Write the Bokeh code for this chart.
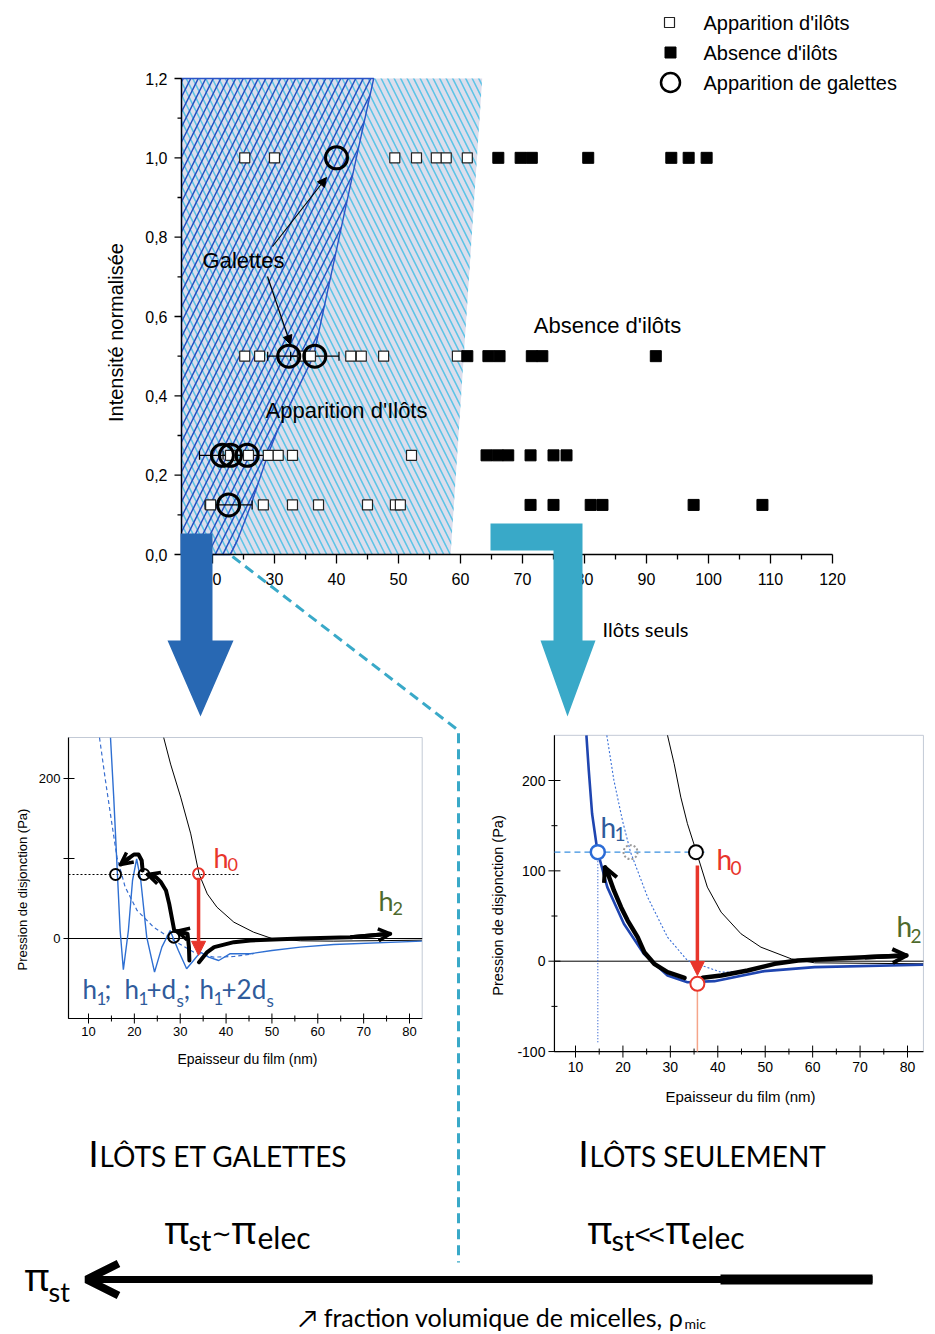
import numpy as np
from bokeh.plotting import figure
from bokeh.models import Range1d, Arrow, OpenHead, NormalHead, ColumnDataSource
from bokeh.embed import file_html
from bokeh.resources import INLINE
from bokeh.core.properties import value

# ---------------- DATA ----------------
# Top chart: normalised intensity rows vs film thickness (nm)
appar_y100 = [25.2, 30.0, 49.4, 52.9, 56.1, 57.7, 61.1]
appar_y050 = [25.2, 27.6, 34.5, 35.8, 42.3, 44.0, 47.6, 59.5]
appar_y025 = [22.9, 25.8, 29.0, 30.6, 32.9, 52.1]
appar_y0125 = [19.7, 28.2, 32.9, 37.1, 45.0, 49.5, 50.3]
absence_y100 = [66.1, 69.7, 71.5, 80.6, 94.0, 96.8, 99.7]
absence_y050 = [61.1, 64.5, 66.3, 71.5, 73.2, 91.5]
absence_y025 = [64.2, 66.0, 67.7, 71.3, 75.0, 77.1]
absence_y0125 = [71.3, 75.0, 81.0, 82.9, 97.6, 108.7]
galettes_x = [40.0, 32.3, 36.5, 21.6, 22.9, 25.6, 22.6]
galettes_y = [1.0, 0.5, 0.5, 0.25, 0.25, 0.25, 0.125]
galettes_err = [0.0, 3.4, 3.9, 3.7, 0.0, 3.9, 3.8]

# regions (boundaries)
region_light_x = [15, 63.5, 58.4, 15]
region_light_y = [1.2, 1.2, 0.0, 0.0]
region_dark_x = [15, 46.0, 43.2, 36.3, 30.5, 28.9, 26.1, 24.0, 22.9, 15]
region_dark_y = [1.2, 1.2, 1.0, 0.5, 0.313, 0.25, 0.121, 0.035, 0.0, 0.0]

top_xticks = [20, 30, 40, 50, 60, 70, 80, 90, 100, 110, 120]
top_xlabels = ["20", "30", "40", "50", "60", "70", "80", "90", "100", "110", "120"]
top_xminor = [25, 35, 45, 55, 65, 75, 85, 95, 105, 115]
top_yticks = [0.0, 0.2, 0.4, 0.6, 0.8, 1.0, 1.2]
top_ylabels = ["0,0", "0,2", "0,4", "0,6", "0,8", "1,0", "1,2"]
top_yminor = [0.1, 0.3, 0.5, 0.7, 0.9, 1.1]
top_xlim = [15, 120]
top_ylim = [0, 1.2]

# Bottom-left chart (islands and pancakes)
L_black_x = [26.4, 27.9, 30.1, 32.3, 34.1, 35.9, 38.0, 41.7, 46.0, 50.0, 56.2, 63.5, 82.7]
L_black_y = [251, 218, 176.7, 130.8, 80.8, 55.8, 39.2, 20.4, 7.9, 0.0, -2.9, -3.3, -2.1]
L_dash_x = [12.4, 13.7, 15.1, 16.2, 18.0, 20.6, 24.2, 28.6, 32.9, 37.3, 41.7, 46.0]
L_dash_y = [251, 197.5, 143.3, 101.7, 64.2, 35.0, 14.2, -2.5, -17.0, -23.3, -22.5, -19.0]
L_osc_x = [14.8, 15.5, 16.2, 16.9, 17.6, 18.7, 19.6, 20.5, 21.4, 22.7, 24.4, 26.0, 27.8, 29.6,
           31.4, 32.9, 34.4, 36.2, 38.4, 40.9, 45.3, 50.0, 56.2, 63.5, 82.7]
L_osc_y = [251, 176.7, 93.3, 10.0, -39.0, 10.0, 72.5, 99.6, 72.5, 1.7, -42.0, -10.8, 10.0, -15.0,
           -37.9, -27.5, -17.0, -23.3, -27.5, -19.0, -19.0, -15.0, -10.8, -7.5, -3.3]
L_level = 80.0
L_pts_x = [15.9, 22.1, 28.6]
L_pts_y = [80.0, 80.0, 1.7]
L_h0 = [34.0, 80.8]
L_pathA_x = [32.0, 31.9, 31.6, 29.3]
L_pathA_y = [-27.5, -10.8, 5.8, 9.2]
L_pathB_x = [28.7, 27.6, 26.9, 25.8, 24.7, 22.9]
L_pathB_y = [10.0, 43.3, 60.0, 70.4, 76.7, 80.0]
L_pathC_x = [21.8, 21.6, 20.9, 19.9, 18.9, 17.0]
L_pathC_y = [85.0, 97.5, 105.0, 105.0, 100.8, 92.5]
L_pathD_x = [34.1, 35.9, 37.4, 41.7, 45.3, 56.2, 67.1, 75.8]
L_pathD_y = [-29.6, -17.0, -10.8, -4.6, -2.5, 0.0, 1.7, 5.8]
L_xticks = [10, 20, 30, 40, 50, 60, 70, 80]
L_xlabels = ["10", "20", "30", "40", "50", "60", "70", "80"]
L_xminor = [15, 25, 35, 45, 55, 65, 75]
L_yticks = [200, 100, 0]
L_ylabels = ["200", "", "0"]
L_xlim = [5.64, 82.77]
L_ylim = [-100, 251.25]

# Bottom-right chart (islands only)
R_black_x = [29.4, 30.8, 32.2, 33.6, 35.4, 37.8, 40.7, 44.9, 49.1, 55.5, 60.4, 83.3]
R_black_y = [250, 218.6, 181.6, 152.2, 122.6, 82.0, 54.3, 30.3, 15.5, 2.6, -1.8, -2.9]
R_blue_x = [12.3, 12.8, 13.5, 14.6, 16.7, 20.2, 24.4, 29.4, 33.6, 39.3, 49.8, 60.4, 83.3]
R_blue_y = [250, 211.2, 163.2, 122.6, 82.0, 41.4, 8.2, -15.8, -23.3, -22.1, -11.0, -6.6, -4.0]
R_dot_x = [16.6, 18.1, 19.9, 21.6, 25.2, 29.4, 33.6, 40.7, 46.3]
R_dot_y = [250, 200.1, 155.8, 120.7, 70.9, 26.6, 0.8, -12.2, -11.1]
R_level = 120.7
R_h1 = [14.7, 120.7]
R_ghost = [21.6, 120.7]
R_top = [35.4, 120.7]
R_h0 = [35.7, -25.0]
R_path1_x = [33.0, 29.4, 26.6, 24.5, 23.1, 21.0, 19.6, 18.1, 17.1, 16.2]
R_path1_y = [-18.4, -12.2, -2.9, 10.0, 26.6, 45.0, 59.8, 78.3, 93.0, 104.0]
R_path2_x = [36.8, 40.7, 46.3, 52.0, 56.9, 64.0, 71.0, 79.8]
R_path2_y = [-18.4, -15.8, -10.3, -2.9, 0.8, 2.6, 4.4, 6.3]
R_xticks = [10, 20, 30, 40, 50, 60, 70, 80]
R_xlabels = ["10", "20", "30", "40", "50", "60", "70", "80"]
R_xminor = [15, 25, 35, 45, 55, 65, 75]
R_yticks = [200, 100, 0, -100]
R_ylabels = ["200", "100", "0", "-100"]
R_yminor = [150, 50, -50]
R_xlim = [5.56, 83.36]
R_ylim = [-100, 250]

# ---------------- LAYOUT ----------------
W, H = 935, 1334
OX, OY = 0, 0


def lin_range(v_a, p_a, v_b, p_b, p_lo, p_hi):
    s = (p_b - p_a) / (v_b - v_a)
    return Range1d(v_a + (p_lo - p_a) / s, v_a + (p_hi - p_a) / s), abs(s)


tx, tsx = lin_range(30, 274, 120, 832, OX, OX + W)
ty, tsy = lin_range(0, 554, 1.2, 78, OY + H, OY)
lx, lsx = lin_range(10, 88, 80, 409, OX, OX + W)
ly, lsy = lin_range(0, 938, 200, 778, OY + H, OY)
rx, rsx = lin_range(10, 575, 80, 907, OX, OX + W)
ry, rsy = lin_range(0, 960.7, 200, 780, OY + H, OY)

p = figure(width=W, height=H, x_range=Range1d(OX, OX + W), y_range=Range1d(OY + H, OY),
           output_backend="svg", toolbar_location=None, min_border=0,
           x_axis_location=None, y_axis_location=None, title=None)
p.outline_line_color = None
p.xgrid.visible = False
p.ygrid.visible = False
p.extra_x_ranges = {"tx": tx, "lx": lx, "rx": rx}
p.extra_y_ranges = {"ty": ty, "ly": ly, "ry": ry}

ARIAL = "Liberation Sans"
CAL = "Lato"
GREEK = "Noto Sans"


def T(x, y, s, size, color="black", font=ARIAL, align="left", baseline="middle",
      angle=0.0, rx_="default", ry_="default", xo=0, yo=0):
    p.text(x=[x], y=[y], text=[s], text_font=value(font), text_font_size=f"{size}px",
           text_color=color, text_align=align, text_baseline=baseline, angle=angle,
           x_offset=xo, y_offset=yo, x_range_name=rx_, y_range_name=ry_)


def ticks_x(xs, yv, down, up, sy, rn, yn, w=1):
    xs = list(xs)
    p.segment(x0=xs, y0=[yv - down / sy] * len(xs), x1=xs, y1=[yv + up / sy] * len(xs),
              line_color="black", line_width=w, x_range_name=rn, y_range_name=yn)


def ticks_y(ys, xv, left, right, sx, rn, yn, w=1):
    ys = list(ys)
    p.segment(x0=[xv - left / sx] * len(ys), y0=ys, x1=[xv + right / sx] * len(ys), y1=ys,
              line_color="black", line_width=w, x_range_name=rn, y_range_name=yn)


# ---------------- TOP CHART ----------------
p.patch(x=region_light_x, y=region_light_y, x_range_name="tx", y_range_name="ty",
        fill_color="#dcdeec", line_color=None,
        hatch_pattern="\\", hatch_color="#5ec4e6", hatch_scale=13, hatch_weight=1.6)
p.patch(x=region_dark_x, y=region_dark_y, x_range_name="tx", y_range_name="ty",
        fill_alpha=0, line_color="#2a54c6", line_width=1.4,
        hatch_pattern="/", hatch_color="#2650c2", hatch_scale=15, hatch_weight=1.5)

# axes
p.line(x=[top_xlim[0], top_xlim[0]], y=top_ylim, line_color="black", line_width=1.3,
       x_range_name="tx", y_range_name="ty")
p.line(x=top_xlim, y=[top_ylim[0], top_ylim[0]], line_color="black", line_width=1.3,
       x_range_name="tx", y_range_name="ty")
ticks_x(top_xticks, 0, 9, 0, tsy, "tx", "ty", 1.3)
ticks_x(top_xminor, 0, 5, 0, tsy, "tx", "ty", 1.3)
ticks_y(top_yticks, top_xlim[0], 7, 0, tsx, "tx", "ty", 1.3)
ticks_y(top_yminor, top_xlim[0], 4, 0, tsx, "tx", "ty", 1.3)
p.text(x=top_xticks, y=[0] * len(top_xticks), text=top_xlabels, text_font=value(ARIAL),
       text_font_size="16px", text_align="center", text_baseline="top", y_offset=18,
       x_range_name="tx", y_range_name="ty")
p.text(x=[top_xlim[0]] * len(top_yticks), y=top_yticks, text=top_ylabels, text_font=value(ARIAL),
       text_font_size="16px", text_align="right", text_baseline="middle", x_offset=-14,
       x_range_name="tx", y_range_name="ty")

# data points
appar_x = appar_y100 + appar_y050 + appar_y025 + appar_y0125
appar_yv = ([1.0] * len(appar_y100) + [0.5] * len(appar_y050) + [0.25] * len(appar_y025)
            + [0.125] * len(appar_y0125))
abs_x = absence_y100 + absence_y050 + absence_y025 + absence_y0125
abs_yv = ([1.0] * len(absence_y100) + [0.5] * len(absence_y050) + [0.25] * len(absence_y025)
          + [0.125] * len(absence_y0125))

wsrc = ColumnDataSource(dict(
    y=[g for g, e in zip(galettes_y, galettes_err) if e > 0],
    lo=[x - e for x, e in zip(galettes_x, galettes_err) if e > 0],
    hi=[x + e for x, e in zip(galettes_x, galettes_err) if e > 0]))
p.segment(x0="lo", x1="hi", y0="y", y1="y", source=wsrc, line_color="black", line_width=1.2,
          x_range_name="tx", y_range_name="ty")
p.scatter(x="lo", y="y", source=wsrc, marker="dash", angle=np.pi / 2, size=9, line_color="black",
          line_width=1.2, x_range_name="tx", y_range_name="ty")
p.scatter(x="hi", y="y", source=wsrc, marker="dash", angle=np.pi / 2, size=9, line_color="black",
          line_width=1.2, x_range_name="tx", y_range_name="ty")
p.scatter(x=appar_x, y=appar_yv, marker="square", size=10, fill_color="white",
          line_color="#222222", line_width=1.2, x_range_name="tx", y_range_name="ty")
p.scatter(x=abs_x, y=abs_yv, marker="square", size=11, fill_color="black",
          line_color="black", x_range_name="tx", y_range_name="ty")
p.scatter(x=galettes_x, y=galettes_y, marker="circle", size=22, fill_alpha=0,
          line_color="black", line_width=3, x_range_name="tx", y_range_name="ty")

# region labels
T(243, 260, "Galettes", 22, align="center")
T(607, 325, "Absence d'ilôts", 22, align="center")
T(346, 410, "Apparition d'Ilôts", 22, align="center")
T(645, 628, "Ilôts seuls", 20, font=CAL, align="center")
T(115, 332, "Intensité normalisée", 20, align="center", angle=np.pi / 2)

p.add_layout(Arrow(end=NormalHead(size=9, fill_color="black", line_color="black"),
                   x_start=272, y_start=246, x_end=326, y_end=177, line_width=1.2))
p.add_layout(Arrow(end=NormalHead(size=9, fill_color="black", line_color="black"),
                   x_start=267, y_start=276, x_end=290, y_end=344, line_width=1.2))

# legend
p.scatter(x=[669], y=[22], marker="square", size=10, fill_color="white", line_color="#222222",
          line_width=1.2)
p.scatter(x=[670], y=[52], marker="square", size=11, fill_color="black", line_color="black")
p.scatter(x=[670], y=[82], marker="circle", size=19, fill_alpha=0, line_color="black",
          line_width=2.5)
T(703, 22, "Apparition d'ilôts", 20)
T(703, 52, "Absence d'ilôts", 20)
T(703, 82, "Apparition de galettes", 20)

# ---------------- CONNECTORS ----------------
p.patch(x=[180, 212, 212, 233, 200, 167, 180], y=[533, 533, 640, 640, 716, 640, 640],
        fill_color="#2868b3", line_color=None)
p.patch(x=[490, 582, 582, 595, 567, 540, 553, 553, 490],
        y=[523, 523, 640, 640, 716, 640, 640, 550, 550],
        fill_color="#39a9c8", line_color=None)
p.line(x=[232, 458, 458], y=[556, 730, 1262], line_color="#39a9c8", line_width=3,
       line_dash="10 6")


# ---------------- BOTTOM CHARTS ----------------
def frame(xl, yl, rn, yn):
    p.line(x=[xl[0], xl[1], xl[1]], y=[yl[1], yl[1], yl[0]], line_color="#c3cad6", line_width=1,
           x_range_name=rn, y_range_name=yn)
    p.line(x=[xl[0], xl[0], xl[1]], y=[yl[1], yl[0], yl[0]], line_color="black", line_width=1.2,
           x_range_name=rn, y_range_name=yn)
    p.line(x=xl, y=[0, 0], line_color="black", line_width=1, x_range_name=rn, y_range_name=yn)


# left chart
frame(L_xlim, L_ylim, "lx", "ly")
ticks_x(L_xticks, L_ylim[0], 5, 5, lsy, "lx", "ly")
ticks_x(L_xminor, L_ylim[0], 3, 3, lsy, "lx", "ly")
ticks_y(L_yticks, L_xlim[0], 5, 6, lsx, "lx", "ly")
p.text(x=L_xticks, y=[L_ylim[0]] * len(L_xticks), text=L_xlabels, text_font=value(ARIAL),
       text_font_size="13px", text_align="center", text_baseline="top", y_offset=8,
       x_range_name="lx", y_range_name="ly")
p.text(x=[L_xlim[0]] * len(L_yticks), y=L_yticks, text=L_ylabels, text_font=value(ARIAL),
       text_font_size="13px", text_align="right", text_baseline="middle", x_offset=-8,
       x_range_name="lx", y_range_name="ly")
T(247, 1058, "Epaisseur du film (nm)", 14, align="center")
T(22, 889, "Pression de disjonction (Pa)", 13, align="center", angle=np.pi / 2)

p.line(x=L_black_x, y=L_black_y, line_color="black", line_width=1, x_range_name="lx", y_range_name="ly")
p.line(x=L_dash_x, y=L_dash_y, line_color="#3a6fd0", line_width=1.2, line_dash="4 3",
       x_range_name="lx", y_range_name="ly")
p.line(x=L_osc_x, y=L_osc_y, line_color="#2e6fd2", line_width=1.4, x_range_name="lx", y_range_name="ly")
p.line(x=[L_xlim[0], 42.8], y=[L_level, L_level], line_color="black", line_width=1,
       line_dash="2 2", x_range_name="lx", y_range_name="ly")
p.scatter(x=L_pts_x, y=L_pts_y, marker="circle", size=11, fill_alpha=0, line_color="black",
          line_width=2, x_range_name="lx", y_range_name="ly")
p.scatter(x=[L_h0[0]], y=[L_h0[1]], marker="circle", size=11, fill_alpha=0, line_color="#e8352b",
          line_width=2, x_range_name="lx", y_range_name="ly")
p.add_layout(Arrow(end=NormalHead(size=14, fill_color="#e8352b", line_color="#e8352b"),
                   x_start=L_h0[0], y_start=76.0, x_end=L_h0[0], y_end=-21.0,
                   line_color="#e8352b", line_width=3.5, x_range_name="lx", y_range_name="ly"))
for px_, py_ in [(L_pathA_x, L_pathA_y), (L_pathB_x, L_pathB_y), (L_pathC_x, L_pathC_y),
                 (L_pathD_x, L_pathD_y)]:
    p.line(x=px_, y=py_, line_color="black", line_width=4, line_cap="round", line_join="round",
           x_range_name="lx", y_range_name="ly")
    p.add_layout(Arrow(end=OpenHead(size=12, line_width=3.5, line_color="black"),
                       x_start=px_[-2], y_start=py_[-2], x_end=px_[-1], y_end=py_[-1],
                       line_width=4, line_color="black", x_range_name="lx", y_range_name="ly"))

RED, GREEN, BLUE_T = "#e8352b", "#4e6a2c", "#2f5b9b"
T(213, 857, "h", 27, RED, CAL)
T(227, 864, "0", 18, RED, CAL)
T(378, 900, "h", 27, GREEN, CAL)
T(392, 908, "2", 18, GREEN, CAL)
for x_, y_, s_, sz_ in [(82, 988, "h", 26), (96, 998, "1", 17), (104, 988, " ;", 26),
                        (124, 988, "h", 26), (138, 998, "1", 17), (146, 988, "+d", 26),
                        (176, 1000, "s", 17), (183, 988, ";", 26), (199, 988, "h", 26),
                        (213, 998, "1", 17), (221, 988, "+2d", 26), (266, 1000, "s", 17)]:
    T(x_, y_, s_, sz_, BLUE_T, CAL)

# right chart
frame(R_xlim, R_ylim, "rx", "ry")
ticks_x(R_xticks, R_ylim[0], 6, 6, rsy, "rx", "ry")
ticks_x(R_xminor, R_ylim[0], 3, 3, rsy, "rx", "ry")
ticks_y(R_yticks, R_xlim[0], 6, 6, rsx, "rx", "ry")
ticks_y(R_yminor, R_xlim[0], 3, 3, rsx, "rx", "ry")
p.text(x=R_xticks, y=[R_ylim[0]] * len(R_xticks), text=R_xlabels, text_font=value(ARIAL),
       text_font_size="14px", text_align="center", text_baseline="top", y_offset=10,
       x_range_name="rx", y_range_name="ry")
p.text(x=[R_xlim[0]] * len(R_yticks), y=R_yticks, text=R_ylabels, text_font=value(ARIAL),
       text_font_size="14px", text_align="right", text_baseline="middle", x_offset=-9,
       x_range_name="rx", y_range_name="ry")
T(740, 1096, "Epaisseur du film (nm)", 15, align="center")
T(497, 905, "Pression de disjonction (Pa)", 14.5, align="center", angle=np.pi / 2)

p.line(x=[R_xlim[0], 37.3], y=[R_level, R_level], line_color="#3a90e0", line_width=1.3,
       line_dash="6 4", x_range_name="rx", y_range_name="ry")
p.line(x=[R_h1[0], R_h1[0]], y=[R_h1[1], -91.5], line_color="#3060d0", line_width=1.2,
       line_dash="1 2", x_range_name="rx", y_range_name="ry")
p.line(x=[R_h0[0], R_h0[0]], y=[R_h0[1], R_ylim[0]], line_color="#f5a58a", line_width=1.5,
       x_range_name="rx", y_range_name="ry")
p.line(x=R_black_x, y=R_black_y, line_color="black", line_width=1, x_range_name="rx", y_range_name="ry")
p.line(x=R_dot_x, y=R_dot_y, line_color="#3a70d8", line_width=1.1, line_dash="2 2",
       x_range_name="rx", y_range_name="ry")
p.line(x=R_blue_x, y=R_blue_y, line_color="#1f45b0", line_width=2.6, x_range_name="rx", y_range_name="ry")
for px_, py_ in [(R_path1_x, R_path1_y), (R_path2_x, R_path2_y)]:
    p.line(x=px_, y=py_, line_color="black", line_width=4.5, line_cap="round", line_join="round",
           x_range_name="rx", y_range_name="ry")
    p.add_layout(Arrow(end=OpenHead(size=14, line_width=4, line_color="black"),
                       x_start=px_[-2], y_start=py_[-2], x_end=px_[-1], y_end=py_[-1],
                       line_width=4.5, line_color="black", x_range_name="rx", y_range_name="ry"))
p.scatter(x=[R_ghost[0]], y=[R_ghost[1]], marker="circle", size=14, fill_alpha=0,
          line_color="#999999", line_width=2, line_dash="2 2", x_range_name="rx", y_range_name="ry")
p.scatter(x=[R_h1[0]], y=[R_h1[1]], marker="circle", size=14, fill_color="white",
          line_color="#2b6bd6", line_width=2.5, x_range_name="rx", y_range_name="ry")
p.scatter(x=[R_top[0]], y=[R_top[1]], marker="circle", size=14, fill_color="white",
          line_color="black", line_width=2, x_range_name="rx", y_range_name="ry")
p.scatter(x=[R_h0[0]], y=[R_h0[1]], marker="circle", size=14, fill_color="white",
          line_color=RED, line_width=2, x_range_name="rx", y_range_name="ry")
p.add_layout(Arrow(end=NormalHead(size=14, fill_color=RED, line_color=RED),
                   x_start=R_h0[0], y_start=106.0, x_end=R_h0[0], y_end=-15.8,
                   line_color=RED, line_width=3.5, x_range_name="rx", y_range_name="ry"))
T(600, 826, "h", 28, BLUE_T, CAL)
T(614, 833, "1", 19, BLUE_T, CAL)
T(716, 858, "h", 28, RED, CAL)
T(730, 867, "0", 19, RED, CAL)
T(896, 925, "h", 28, GREEN, CAL)
T(910, 935, "2", 19, GREEN, CAL)

# ---------------- BOTTOM TEXT ----------------
T(88, 1152, "I", 36, font=CAL)
T(99, 1155, "LÔTS ET GALETTES", 28, font=CAL)
T(578, 1152, "I", 36, font=CAL)
T(589, 1155, "LÔTS SEULEMENT", 28, font=CAL)

T(164, 1228, "π", 38, font=GREEK)
T(188, 1239, "st", 29, font=CAL)
T(211, 1233, "∼", 24, font="DejaVu Sans")
T(231, 1228, "π", 38, font=GREEK)
T(257, 1236, "elec", 30, font=CAL)
T(587, 1228, "π", 38, font=GREEK)
T(611, 1239, "st", 29, font=CAL)
T(634, 1234, "<", 28, font=ARIAL)
T(648, 1234, "<", 28, font=ARIAL)
T(665, 1228, "π", 38, font=GREEK)
T(691, 1236, "elec", 30, font=CAL)

p.line(x=[872, 100], y=[1279, 1279], line_color="black", line_width=7)
p.line(x=[872, 720], y=[1279, 1279], line_color="black", line_width=10)
p.add_layout(Arrow(end=OpenHead(size=32, line_width=8, line_color="black"),
                   x_start=140, y_start=1279, x_end=86, y_end=1279, line_width=7, line_color="black"))
T(24, 1275, "π", 38, font=GREEK)
T(48, 1291, "st", 27, font=CAL)
T(298, 1316, "↗ fraction volumique de micelles, ρ", 25, font=CAL)
T(684, 1323, "mic", 14, font=CAL)

open("out.html", "w").write(file_html(p, INLINE))
